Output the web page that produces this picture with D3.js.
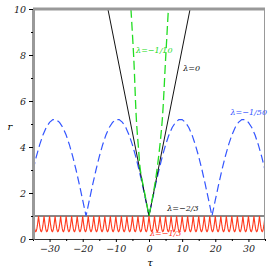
<!DOCTYPE html>
<html>
<head>
<meta charset="utf-8">
<script src="https://d3js.org/d3.v7.min.js"></script>
<style>
body{margin:0;background:#fff;}
</style>
</head>
<body>
<svg id="chart" width="270" height="270"></svg>
<script>
// axis ranges and ticks
const tauDomain = [-35, 35];
const rDomain = [0, 10];
const xMajor = [-30, -20, -10, 0, 10, 20, 30];
const xMinor = [-35, -25, -15, -5, 5, 15, 25, 35];
const yMajor = [0, 2, 4, 6, 8, 10];
const yMinor = [1, 3, 5, 7, 9];

// lambda = 0 (black V)
const vTau = [-12.4, 0, 12.4];
const vR = [10, 1, 10];

// lambda = -1/10 (green dashed), two branches meeting at the vertex
const greenLeftTau = [-5.45, -4.6, -3.8, -3.2, -2.6, -1.3, 0];
const greenLeftR = [10, 7.87, 5.17, 4.0, 3.0, 2.0, 1];
const greenRightTau = [0, 1.3, 2.0, 3.0, 4.0, 5.0, 5.85];
const greenRightR = [1, 2.0, 2.6, 3.7, 5.17, 7.8, 10];

// lambda = -1/50 (blue dashed arches), one value per tau step
const blueTau = d3.range(-35, 36, 1);
const blueR = [3.0, 3.58, 4.09, 4.52, 4.85, 5.07, 5.19, 5.19, 5.07, 4.85, 4.52, 4.09, 3.58, 3.0, 2.36, 1.69, 1,
  1.69, 2.36, 3.0, 3.58, 4.09, 4.52, 4.85, 5.07, 5.19, 5.19, 5.07, 4.85, 4.52, 4.09, 3.58, 3.0, 2.36, 1.69, 1,
  1.69, 2.36, 3.0, 3.58, 4.09, 4.52, 4.85, 5.07, 5.19, 5.19, 5.07, 4.85, 4.52, 4.09, 3.58, 3.0, 2.36, 1.69, 1,
  1.69, 2.36, 3.0, 3.58, 4.09, 4.52, 4.85, 5.07, 5.19, 5.19, 5.07, 4.85, 4.52, 4.09, 3.58, 3.0];

// lambda = -2/3 (flat at r = 1)
const flatTau = [-35, 35];
const flatR = [1, 1];

// lambda = -1/3 (red): one period shape, repeated at each cusp
const redPeriods = 42;
const redPhase = [0, 0.1, 0.2, 0.3, 0.4, 0.5, 0.6, 0.7, 0.8, 0.9];
const redShape = [1, 0.79, 0.6, 0.45, 0.35, 0.32, 0.35, 0.45, 0.6, 0.79];

// labels
const labels = [
  {text: "λ=−1/10", tau: -3.9, r: 8.1, color: "#22dd22"},
  {text: "λ=0", tau: 10.3, r: 7.3, color: "#111"},
  {text: "λ=−1/50", tau: 24.6, r: 5.4, color: "#3355ff"},
  {text: "λ=−2/3", tau: 5.5, r: 1.2, color: "#111"},
  {text: "λ=−1/3", tau: 0.3, r: 0.12, color: "#ff3322"}
];

const serif = "DejaVu Serif";

const svg = d3.select("#chart");
const x = d3.scaleLinear(tauDomain, [33, 265]);
const y = d3.scaleLinear(rDomain, [239, 9]);

svg.append("clipPath").attr("id", "plot")
  .append("rect").attr("x", 33).attr("y", 9).attr("width", 232).attr("height", 230);

const g = svg.append("g").attr("clip-path", "url(#plot)");
const line = d3.line().x(d => x(d[0])).y(d => y(d[1]));
const smooth = d3.line().x(d => x(d[0])).y(d => y(d[1])).curve(d3.curveCatmullRom);
const zip = (a, b) => a.map((v, i) => [v, b[i]]);

// red curve points
const redStep = (tauDomain[1] - tauDomain[0]) / redPeriods;
const redPts = [];
for (let p = 0; p < redPeriods; p++) {
  redPhase.forEach((f, i) => redPts.push([tauDomain[0] + (p + f) * redStep, redShape[i]]));
}
redPts.push([tauDomain[1], 1]);

g.append("path").attr("d", line(zip(flatTau, flatR)))
  .attr("fill", "none").attr("stroke", "#111").attr("stroke-width", 1);
g.append("path").attr("d", line(redPts))
  .attr("fill", "none").attr("stroke", "#ff3a1e").attr("stroke-width", 1.1);
g.append("path").attr("d", line(zip(blueTau, blueR)))
  .attr("fill", "none").attr("stroke", "#3355ff").attr("stroke-width", 1.2)
  .attr("stroke-dasharray", "8,4");
g.append("path").attr("d", line(zip(vTau, vR)))
  .attr("fill", "none").attr("stroke", "#111").attr("stroke-width", 1);
[zip(greenLeftTau, greenLeftR), zip(greenRightTau, greenRightR)].forEach(pts => {
  g.append("path").attr("d", smooth(pts))
    .attr("fill", "none").attr("stroke", "#22dd22").attr("stroke-width", 1.3)
    .attr("stroke-dasharray", "9,4");
});

// frame
svg.append("line").attr("x1", 33).attr("x2", 265).attr("y1", 9).attr("y2", 9)
  .attr("stroke", "#999").attr("stroke-width", 3);
svg.append("line").attr("x1", 264.5).attr("x2", 264.5).attr("y1", 9).attr("y2", 239)
  .attr("stroke", "#999").attr("stroke-width", 1);

// axes
const xAxis = svg.append("g").attr("transform", "translate(0,239)")
  .call(d3.axisBottom(x).tickValues(xMajor).tickSize(3).tickPadding(3).tickSizeOuter(0));
svg.append("g").attr("transform", "translate(0,239)")
  .call(d3.axisBottom(x).tickValues(xMinor).tickSize(2).tickFormat("").tickSizeOuter(0))
  .select(".domain").remove();
xAxis.select(".domain").attr("stroke", "#333");

const yAxis = svg.append("g").attr("transform", "translate(33,0)")
  .call(d3.axisLeft(y).tickValues(yMajor).tickSize(4).tickPadding(3).tickSizeOuter(0));
svg.append("g").attr("transform", "translate(33,0)")
  .call(d3.axisLeft(y).tickValues(yMinor).tickSize(2).tickFormat("").tickSizeOuter(0))
  .select(".domain").remove();
yAxis.select(".domain").attr("stroke", "#999").attr("stroke-width", 3);

svg.selectAll(".tick text").attr("font-size", 9.5).attr("fill", "#222")
  .attr("font-family", serif).attr("font-style", "italic");

svg.append("text").attr("x", 10).attr("y", 130).attr("text-anchor", "middle")
  .attr("font-family", serif).attr("font-style", "italic")
  .attr("font-size", 10).text("r");
svg.append("text").attr("x", 150).attr("y", 266).attr("text-anchor", "middle")
  .attr("font-family", serif).attr("font-style", "italic")
  .attr("font-size", 10).text("τ");

labels.forEach(l => {
  svg.append("text").attr("x", x(l.tau)).attr("y", y(l.r))
    .attr("font-family", serif).attr("font-style", "italic")
    .attr("font-size", 8).attr("fill", l.color).text(l.text);
});
</script>
</body>
</html>
